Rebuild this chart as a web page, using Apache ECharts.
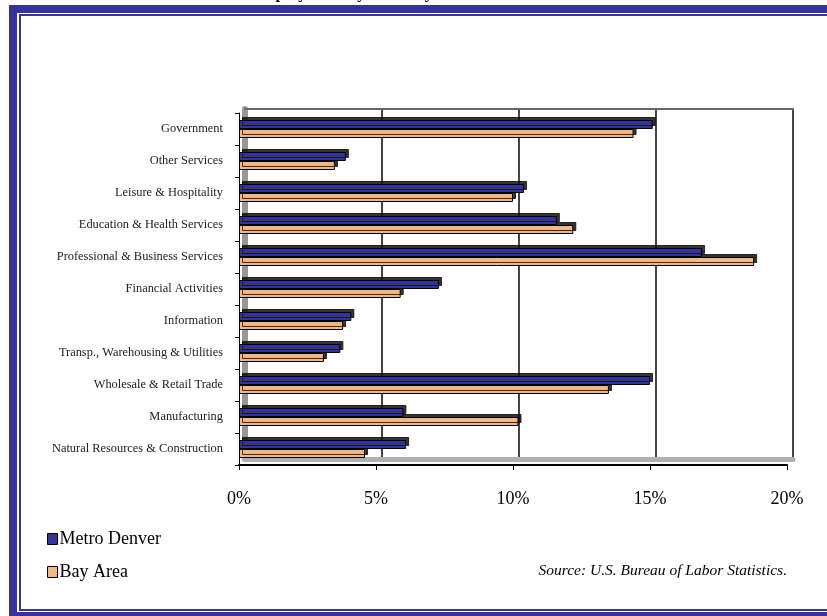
<!DOCTYPE html>
<html>
<head>
<meta charset="utf-8">
<script src="https://cdn.jsdelivr.net/npm/echarts@6/dist/echarts.min.js"></script>
<style>
  html, body { margin: 0; padding: 0; background: #fff; }
  #chart { width: 827px; height: 616px; }
</style>
</head>
<body>
<div id="chart"></div>
<script>
// industries, listed top to bottom as in the picture
const categories = [
  'Government',
  'Other Services',
  'Leisure & Hospitality',
  'Education & Health Services',
  'Professional & Business Services',
  'Financial Activities',
  'Information',
  'Transp., Warehousing & Utilities',
  'Wholesale & Retail Trade',
  'Manufacturing',
  'Natural Resources & Construction'
];
// share of employment, %
const metroDenver = [15.1, 3.9, 10.4, 11.6, 16.9, 7.3, 4.1, 3.7, 15.0, 6.0, 6.1];
const bayArea = [14.4, 3.5, 10.0, 12.2, 18.8, 5.9, 3.8, 3.1, 13.5, 10.2, 4.6];
const xTicks = [0, 5, 10, 15, 20];

const blue = '#333399';
const orange = '#F2B880';
const serif = '"Liberation Serif", "DejaVu Serif", serif';

const chart = echarts.init(document.getElementById('chart'));

const barShadow = {
  borderColor: '#000',
  borderWidth: 1,
  shadowColor: 'rgba(20,15,10,0.85)',
  shadowBlur: 0,
  shadowOffsetX: 3,
  shadowOffsetY: -3
};

const option = {
  animation: false,
  backgroundColor: '#fff',
  legend: {
    orient: 'vertical',
    left: 42,
    top: 525,
    itemGap: 15,
    itemWidth: 10,
    itemHeight: 11,
    icon: 'rect',
    textStyle: { fontFamily: serif, fontSize: 18, color: '#000', padding: [0, 0, 0, -3] },
    itemStyle: { borderColor: '#000', borderWidth: 1, shadowBlur: 0, shadowOffsetX: 0, shadowOffsetY: 0 },
    data: ['Metro Denver', 'Bay Area']
  },
  grid: [
    // front (bars, labels, floor edge)
    { left: 239, right: 40, top: 113, bottom: 151 },
    // back wall (gridlines)
    { left: 245, right: 34, top: 109, bottom: 157 }
  ],
  xAxis: [
    {
      gridIndex: 0,
      type: 'value',
      min: xTicks[0],
      max: xTicks[xTicks.length - 1],
      interval: 5,
      axisLine: { show: true, lineStyle: { color: '#000', width: 2 } },
      axisTick: { show: true, length: 5, lineStyle: { color: '#000' } },
      axisLabel: { margin: 25, fontFamily: serif, fontSize: 18, color: '#000', formatter: '{value}%' },
      splitLine: { show: false }
    },
    {
      gridIndex: 1,
      type: 'value',
      min: xTicks[0],
      max: xTicks[xTicks.length - 1],
      interval: 5,
      axisLine: { show: true, lineStyle: { color: '#b0b0b0', width: 5 } },
      axisTick: { show: false },
      axisLabel: { show: false },
      splitLine: { show: true, lineStyle: { color: '#444', width: 2 } }
    },
    {
      gridIndex: 1,
      type: 'value',
      position: 'top',
      min: xTicks[0],
      max: xTicks[xTicks.length - 1],
      interval: 5,
      axisLine: { show: true, lineStyle: { color: '#666', width: 2 } },
      axisTick: { show: false },
      axisLabel: { show: false },
      splitLine: { show: false }
    }
  ],
  yAxis: [
    {
      gridIndex: 0,
      type: 'category',
      inverse: true,
      data: categories,
      axisLine: { show: true, lineStyle: { color: '#000', width: 1 } },
      axisTick: { show: true, length: 4, lineStyle: { color: '#000' } },
      axisLabel: { margin: 16, fontFamily: serif, fontSize: 12.4, color: '#222' }
    },
    {
      gridIndex: 1,
      type: 'category',
      inverse: true,
      data: categories,
      position: 'left',
      offset: 4,
      axisLine: { show: true, lineStyle: { color: '#999', width: 6 } },
      axisTick: { show: false },
      axisLabel: { show: false }
    }
  ],
  graphic: [
    {
      type: 'text',
      x: 250,
      y: 2,
      z: 1,
      style: {
        text: 'Employment by Industry, 2006',
        font: 'bold 17px ' + serif,
        fill: '#000',
        textAlign: 'left',
        textVerticalAlign: 'bottom'
      }
    },
    {
      type: 'rect',
      z: 10,
      shape: { x: 13, y: 9, width: 900, height: 607 },
      style: { fill: 'none', stroke: blue, lineWidth: 8 }
    },
    {
      type: 'rect',
      z: 10,
      shape: { x: 20, y: 15, width: 900, height: 595 },
      style: { fill: 'none', stroke: blue, lineWidth: 2 }
    },
    {
      type: 'text',
      right: 40,
      top: 563,
      style: {
        text: 'Source: U.S. Bureau of Labor Statistics.',
        font: 'italic 15.5px ' + serif,
        fill: '#000'
      }
    }
  ],
  series: [
    {
      name: 'Metro Denver',
      type: 'bar',
      xAxisIndex: 0,
      yAxisIndex: 0,
      z: 4,
      barWidth: 9,
      barGap: '0%',
      data: metroDenver,
      itemStyle: Object.assign({ color: blue }, barShadow)
    },
    {
      name: 'Bay Area',
      type: 'bar',
      xAxisIndex: 0,
      yAxisIndex: 0,
      z: 3,
      barWidth: 9,
      barGap: '0%',
      data: bayArea,
      itemStyle: Object.assign({ color: orange }, barShadow)
    }
  ]
};

chart.setOption(option);
</script>
</body>
</html>
